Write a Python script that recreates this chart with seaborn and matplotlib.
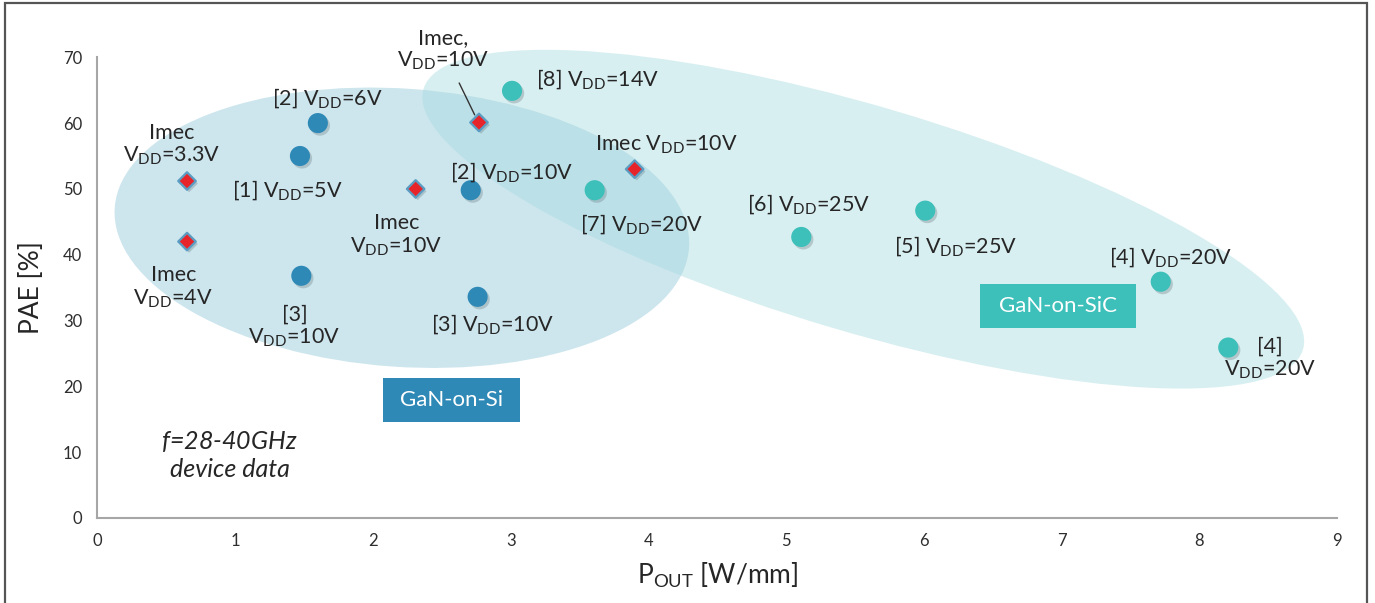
import matplotlib
matplotlib.use("Agg")
import matplotlib.pyplot as plt
import matplotlib.patheffects as pe
from matplotlib.patches import Ellipse, Rectangle
from matplotlib.transforms import Affine2D
import pandas as pd
import seaborn as sns

# ---- device data: output power density [W/mm] and PAE [%] ----
si_pout = [1.60, 1.47, 1.48, 2.71, 2.76]
si_pae = [60.0, 55.0, 36.8, 49.8, 33.6]

sic_pout = [3.01, 3.61, 5.11, 6.01, 7.72, 8.21]
sic_pae = [64.9, 49.8, 42.7, 46.7, 35.9, 25.9]

imec_pout = [0.65, 0.65, 2.31, 2.77, 3.90]
imec_pae = [51.2, 42.0, 50.0, 60.1, 53.0]

x_ticks = [0, 1, 2, 3, 4, 5, 6, 7, 8, 9]
y_ticks = [0, 10, 20, 30, 40, 50, 60, 70]

VDD = r"V$\mathregular{_{DD}}$"

si_df = pd.DataFrame({"pout": si_pout, "pae": si_pae})
sic_df = pd.DataFrame({"pout": sic_pout, "pae": sic_pae})
imec_df = pd.DataFrame({"pout": imec_pout, "pae": imec_pae})

sns.set_theme(style="white")
plt.rcParams["font.family"] = ["Lato", "DejaVu Sans"]
plt.rcParams["mathtext.fontset"] = "custom"
plt.rcParams["mathtext.rm"] = "Lato"
plt.rcParams["mathtext.it"] = "Lato:italic"

TXT = "#262626"
AXC = "#a6a6a6"
SI_BLUE = "#2f89b6"
SIC_TEAL = "#3dbfba"
IMEC_RED = "#e8242b"

fig = plt.figure(figsize=(13.75, 6.03), dpi=100)
ax = fig.add_axes([0.0709, 0.1410, 0.9015, 0.764])
ax.set_xlim(0, 9)
ax.set_ylim(0, 70)


def screen_ellipse(cx, cy, half_long, half_short, tilt, **kw):
    """Ellipse whose shape is defined on screen (isotropic x-units)."""
    bb = ax.get_window_extent()
    x0, x1 = ax.get_xlim()
    y0, y1 = ax.get_ylim()
    ratio = (bb.width / (x1 - x0)) / (bb.height / (y1 - y0))
    e = Ellipse((0, 0), 2 * half_long, 2 * half_short, angle=tilt, clip_on=False, **kw)
    e.set_transform(Affine2D().scale(1, ratio).translate(cx, cy) + ax.transData)
    ax.add_patch(e)


# technology regions
screen_ellipse(2.21, 44.1, 2.09, 1.01, -4, facecolor="#cde6ee", edgecolor="none", zorder=1)
screen_ellipse(5.56, 45.4, 3.33, 0.82, -16.5, facecolor="#a3dade", alpha=0.42,
               edgecolor="none", zorder=1.5)

shadow = [pe.SimplePatchShadow(offset=(1.5, -1.8), shadow_rgbFace="#6f7f86", alpha=0.35),
          pe.Normal()]

sns.scatterplot(data=si_df, x="pout", y="pae", color=SI_BLUE, s=210, marker="o",
                edgecolor="none", ax=ax, zorder=4, legend=False)
ax.collections[-1].set_path_effects(shadow)
sns.scatterplot(data=sic_df, x="pout", y="pae", color=SIC_TEAL, s=210, marker="o",
                edgecolor="none", ax=ax, zorder=4, legend=False)
ax.collections[-1].set_path_effects(shadow)
sns.scatterplot(data=imec_df, x="pout", y="pae", color=IMEC_RED, s=80, marker="D",
                edgecolor="#5a9cc2", linewidth=1.6, ax=ax, zorder=5, legend=False)
ax.collections[-1].set_path_effects(shadow)

# point annotations
labels = [
    ("Imec\n" + VDD + "=3.3V", 0.54, 56.7),
    ("Imec\n" + VDD + "=4V", 0.55, 35.0),
    ("[1] " + VDD + "=5V", 1.38, 49.8),
    ("[2] " + VDD + "=6V", 1.67, 63.8),
    ("Imec\n" + VDD + "=10V", 2.17, 42.9),
    ("[3]\n" + VDD + "=10V", 1.43, 29.0),
    ("[2] " + VDD + "=10V", 3.01, 52.6),
    ("[3] " + VDD + "=10V", 2.87, 29.5),
    ("[8] " + VDD + "=14V", 3.63, 66.7),
    ("Imec " + VDD + "=10V", 4.13, 56.7),
    ("[7] " + VDD + "=20V", 3.95, 44.7),
    ("[6] " + VDD + "=25V", 5.16, 47.7),
    ("[5] " + VDD + "=25V", 6.23, 41.3),
    ("[4] " + VDD + "=20V", 7.79, 39.7),
    ("[4]\n" + VDD + "=20V", 8.51, 24.2),
]
for txt, lx, ly in labels:
    ax.text(lx, ly, txt, ha="center", va="center", multialignment="center",
            fontsize=15.5, color=TXT, zorder=6, clip_on=False, linespacing=1.12)

ax.annotate("Imec,\n" + VDD + "=10V", xy=(2.756, 60.5), xytext=(2.51, 71.1),
            ha="center", va="center", multialignment="center", fontsize=15.5, color=TXT,
            annotation_clip=False, linespacing=1.12, zorder=6,
            arrowprops=dict(arrowstyle="-", color="#333333", lw=1.0,
                            shrinkA=6, shrinkB=4))

# technology tags
ax.add_patch(Rectangle((2.073, 14.59), 0.995, 6.69, facecolor=SI_BLUE, edgecolor="none",
                       zorder=3))
ax.text(2.57, 17.9, "GaN-on-Si", ha="center", va="center", fontsize=16, color="white",
        zorder=6)
ax.add_patch(Rectangle((6.41, 28.88), 1.13, 6.68, facecolor=SIC_TEAL, edgecolor="none",
                       zorder=3))
ax.text(6.975, 32.2, "GaN-on-SiC", ha="center", va="center", fontsize=16, color="white",
        zorder=6)

ax.text(0.96, 9.6, r"$\mathit{f}$=28-40GHz" + "\ndevice data", ha="center", va="center",
        fontsize=18, style="italic", color=TXT, zorder=6, linespacing=1.2)

# axes styling
ax.set_xticks(x_ticks)
ax.set_yticks(y_ticks)
ax.tick_params(axis="both", colors=AXC, labelcolor="#2e2e2e", labelsize=12,
               length=5, width=1.2, direction="out", pad=6)
for side in ("top", "right"):
    ax.spines[side].set_visible(False)
for side in ("left", "bottom"):
    ax.spines[side].set_color(AXC)
    ax.spines[side].set_linewidth(1.5)

ax.set_xlabel("P$\\mathregular{_{OUT}}$ [W/mm]", fontsize=19, color=TXT, labelpad=8)
ax.set_ylabel("PAE [%]", fontsize=19, color=TXT, labelpad=14)

# figure frame
fig.add_artist(Rectangle((0.0036, -0.02), 0.9906, 1.015, transform=fig.transFigure,
                         facecolor="none", edgecolor="#555555", linewidth=1.6))

fig.savefig("out.png", dpi=100)
